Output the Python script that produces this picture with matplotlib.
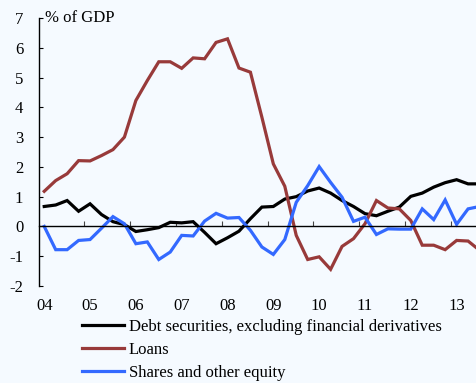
import numpy as np
import matplotlib
matplotlib.use("Agg")
import matplotlib.pyplot as plt

# quarterly flows, % of GDP, 2004Q1 onwards
debt = [0.67, 0.72, 0.87, 0.51, 0.76, 0.40, 0.16, 0.06, -0.17, -0.11,
        -0.04, 0.14, 0.12, 0.16, -0.20, -0.58, -0.38, -0.16, 0.26, 0.65,
        0.67, 0.92, 1.00, 1.19, 1.29, 1.12, 0.87, 0.67, 0.43, 0.36,
        0.51, 0.65, 1.01, 1.12, 1.32, 1.47, 1.57, 1.43, 1.43]
loans = [1.18, 1.54, 1.77, 2.21, 2.20, 2.38, 2.58, 3.00, 4.23, 4.90,
         5.53, 5.53, 5.31, 5.66, 5.63, 6.18, 6.30, 5.32, 5.18, 3.67,
         2.10, 1.35, -0.30, -1.11, -1.02, -1.44, -0.67, -0.41, 0.09, 0.87,
         0.62, 0.59, 0.20, -0.63, -0.63, -0.78, -0.47, -0.49, -0.80]
shares = [0.00, -0.78, -0.78, -0.47, -0.44, -0.06, 0.33, 0.09, -0.58, -0.52,
          -1.11, -0.86, -0.30, -0.32, 0.18, 0.44, 0.28, 0.30, -0.13, -0.69,
          -0.94, -0.44, 0.81, 1.37, 2.01, 1.48, 0.98, 0.17, 0.31, -0.27,
          -0.08, -0.09, -0.09, 0.59, 0.23, 0.89, 0.07, 0.59, 0.67]
series_names = ["Debt securities, excluding financial derivatives",
                "Loans", "Shares and other equity"]
series_colors = ["#000000", "#983a3a", "#3369ff"]
years = [2004, 2005, 2006, 2007, 2008, 2009, 2010, 2011, 2012, 2013]
year_labels = ["04", "05", "06", "07", "08", "09", "10", "11", "12", "13"]

plt.rcParams["font.family"] = ["Liberation Serif", "DejaVu Serif"]
plt.rcParams["font.size"] = 12
plt.rcParams["axes.unicode_minus"] = False

bg = "#f5faff"
fig = plt.figure(figsize=(4.77, 3.83), dpi=100, facecolor=bg)
ax = fig.add_axes([38.5 / 477, 1 - 286 / 383, 1 - 38.5 / 477, (286 - 18) / 383])
ax.set_facecolor(bg)

x = 2004 + (np.arange(len(debt)) + 0.5) / 4
for vals, name, col in zip([debt, loans, shares], series_names, series_colors):
    ax.plot(x, vals, color=col, lw=2.3, label=name, solid_joinstyle="miter")

ax.set_xlim(2004, 2013.57)
ax.set_ylim(-2, 7)
ax.set_yticks(range(-2, 8))
ax.tick_params(axis="y", direction="in", length=3, pad=11, width=0.8)

for s in ["top", "right"]:
    ax.spines[s].set_visible(False)
ax.spines["bottom"].set_position(("data", 0))
ax.spines["bottom"].set_linewidth(1.0)
ax.spines["left"].set_linewidth(1.0)
ax.set_xticks(years[1:])
ax.set_xticklabels([])
ax.tick_params(axis="x", direction="in", length=3.5, width=0.8, color="#444444")

sec = ax.secondary_xaxis("bottom")
sec.set_xticks([y + 0.125 for y in years])
sec.set_xticklabels(year_labels)
sec.tick_params(length=0, pad=9)
sec.spines["bottom"].set_visible(False)

ax.text(2004.15, 7, "% of GDP", va="center", ha="left")

fig.legend(loc="upper left", bbox_to_anchor=(82 / 477, 1 - 319 / 383),
           frameon=False, borderpad=0, borderaxespad=0, handlelength=2.5,
           handletextpad=0.3, labelspacing=0.42)

fig.savefig("out.png", dpi=100, facecolor=bg)
